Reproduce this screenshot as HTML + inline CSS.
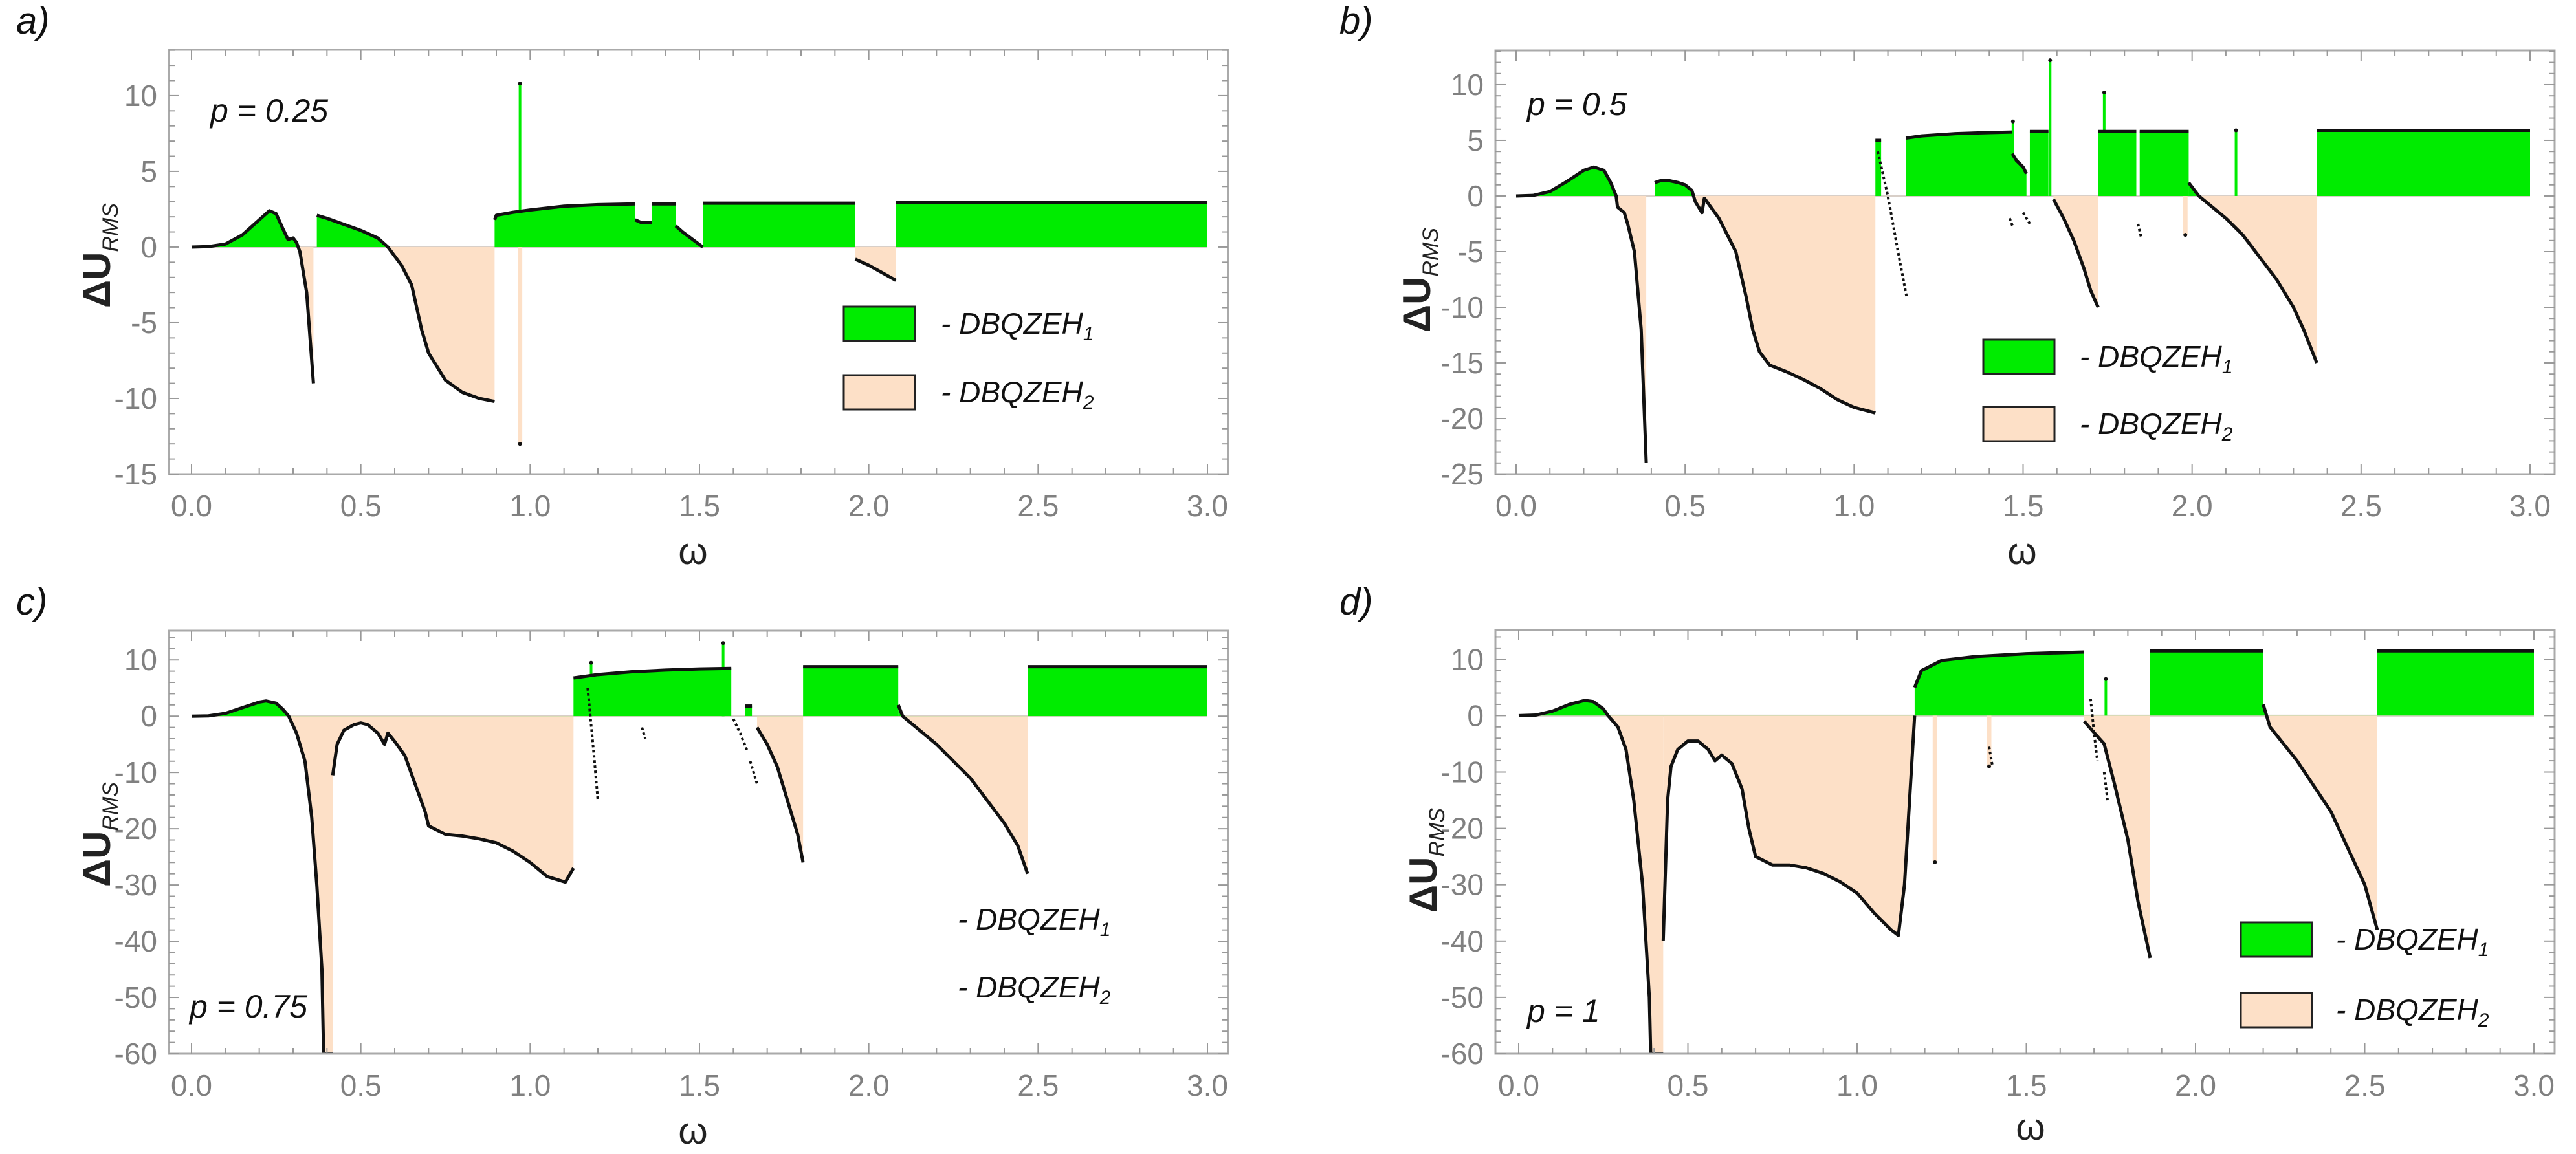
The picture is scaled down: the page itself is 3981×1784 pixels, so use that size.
<!DOCTYPE html>
<html><head><meta charset="utf-8"><style>
html,body{margin:0;padding:0;background:#fff}
svg{display:block}
text{font-family:"Liberation Sans",sans-serif}
</style></head><body>
<svg id="fig" width="3981" height="1784" viewBox="0 0 3981 1784" xmlns="http://www.w3.org/2000/svg"></svg>
<script>
// ---------- DATA ----------
// panel a (p = 0.25)
const aCurveX = [[0,0.05,0.1,0.15,0.2,0.23,0.25,0.27,0.285,0.3,0.31,0.32,0.34,0.36],[0.37,0.4,0.45,0.5,0.55,0.58,0.6,0.62,0.65,0.68,0.7,0.75,0.8,0.85,0.895],[0.895,0.9,0.95,1.0,1.1,1.2,1.31],[1.31,1.33,1.36],[1.36,1.43],[1.43,1.45,1.48,1.51],[1.51,1.96],[1.96,2.0,2.04,2.08],[2.08,3.0]];
const aCurveY = [[0,0.03,0.2,0.8,1.8,2.4,2.2,1.2,0.5,0.6,0.3,-0.3,-3,-9],[2.1,1.9,1.5,1.1,0.6,0,-0.6,-1.2,-2.5,-5.5,-7,-8.8,-9.6,-10,-10.2],[1.8,2.1,2.3,2.45,2.7,2.8,2.85],[1.8,1.6,1.6],[2.85,2.85],[1.4,1.0,0.5,0],[2.9,2.9],[-0.8,-1.2,-1.7,-2.2],[2.95,2.95]];
const aTrailX = [];
const aTrailY = [];
const aSpikeX = [0.97,0.97];
const aSpikeY = [10.8,-13];
// panel b (p = 0.5)
const bCurveX = [[0,0.05,0.1,0.15,0.2,0.23,0.26,0.28,0.296,0.3,0.32,0.33,0.35,0.37,0.385],[0.41,0.43,0.45,0.48,0.5,0.52,0.53,0.55,0.557,0.6,0.65,0.68,0.7,0.72,0.75,0.8,0.85,0.9,0.95,1.0,1.063],[1.063,1.08],[1.153,1.2,1.25,1.3,1.4,1.468],[1.468,1.48,1.5,1.51],[1.52,1.575],[1.59,1.62,1.65,1.68,1.7,1.722],[1.722,1.835],[1.845,1.99],[1.99,2.02,2.06,2.1,2.15,2.2,2.25,2.3,2.33,2.369],[2.369,3.0]];
const bCurveY = [[0,0.05,0.4,1.3,2.3,2.6,2.3,1.2,0,-1,-1.5,-2.5,-5,-12,-24],[1.2,1.4,1.4,1.2,1.0,0.5,-0.5,-1.5,-0.2,-2,-5,-9,-12,-14,-15.2,-15.8,-16.5,-17.3,-18.3,-19,-19.5],[5,5],[5.2,5.4,5.5,5.6,5.7,5.75],[3.8,3.2,2.6,2.0],[5.8,5.8],[-0.3,-2,-4,-6.5,-8.5,-10],[5.8,5.8],[5.8,5.8],[1.2,0,-1,-2,-3.5,-5.5,-7.5,-10,-12,-15],[5.9,5.9]];
const bTrailX = [[1.07,1.1,1.13,1.155],[1.5,1.52],[1.84,1.85],[1.46,1.47]];
const bTrailY = [[4,0,-5,-9],[-1.5,-2.5],[-2.5,-3.8],[-2,-2.8]];
const bSpikeX = [1.47,1.58,1.74,2.13,1.98];
const bSpikeY = [6.7,12.2,9.3,5.9,-3.5];
// panel c (p = 0.75)
const cCurveX = [[0,0.05,0.1,0.15,0.2,0.22,0.25,0.27,0.287,0.31,0.335,0.355,0.37,0.385,0.39,0.417],[0.417,0.43,0.45,0.48,0.5,0.52,0.55,0.57,0.58,0.6,0.63,0.66,0.69,0.7,0.75,0.8,0.85,0.9,0.95,1.0,1.05,1.104,1.128],[1.128,1.2,1.3,1.4,1.5,1.594],[1.635,1.655],[1.67,1.7,1.73,1.76,1.79,1.806],[1.806,2.087],[2.087,2.1,2.15,2.2,2.25,2.3,2.35,2.4,2.44,2.469],[2.469,3.0]];
const cCurveY = [[0,0.05,0.5,1.5,2.5,2.7,2.3,1.2,0,-3,-8,-18,-30,-45,-60,-60],[-10.5,-5,-2.5,-1.5,-1.2,-1.5,-3,-5,-3,-4.5,-7,-12,-17,-19.5,-21,-21.3,-21.8,-22.5,-24,-26,-28.5,-29.5,-27],[6.8,7.4,7.9,8.2,8.4,8.5],[1.8,1.8],[-2,-5,-9,-15,-21,-26],[8.8,8.8],[2,0,-2.5,-5,-8,-11,-15,-19,-23,-28],[8.8,8.8]];
const cTrailX = [[1.17,1.19,1.2],[1.33,1.34],[1.6,1.62,1.64],[1.65,1.67]];
const cTrailY = [[5,-8,-15],[-2,-4],[-0.5,-3,-6],[-8,-12]];
const cSpikeX = [1.18,1.57];
const cSpikeY = [9.5,13];
// panel d (p = 1)
const dCurveX = [[0,0.05,0.1,0.15,0.195,0.22,0.25,0.264,0.293,0.317,0.34,0.366,0.386,0.39,0.427],[0.427,0.44,0.45,0.47,0.5,0.53,0.56,0.58,0.6,0.63,0.66,0.68,0.7,0.75,0.8,0.85,0.9,0.95,1.0,1.05,1.1,1.122,1.14,1.16,1.17],[1.17,1.19,1.25,1.35,1.5,1.671],[1.671,1.7,1.73,1.76,1.8,1.83,1.866],[1.866,2.2],[2.2,2.22,2.3,2.4,2.5,2.537],[2.537,3.0]];
const dCurveY = [[0,0.1,0.8,2,2.7,2.5,1.2,0,-2,-6,-15,-30,-50,-60,-60],[-40,-15,-9,-6,-4.5,-4.5,-6,-8,-7,-8.5,-13,-20,-25,-26.5,-26.5,-27,-28,-29.5,-31.5,-35,-38,-39,-30,-10,0],[5,8,9.8,10.5,11,11.3],[-1,-3,-5,-12,-22,-33,-43],[11.5,11.5],[2,-2,-8,-17,-30,-38],[11.5,11.5]];
const dTrailX = [[1.69,1.7,1.71],[1.73,1.74],[1.39,1.4]];
const dTrailY = [[3,-3,-8],[-10,-15],[-5.5,-9]];
const dSpikeX = [1.23,1.39,1.735];
const dSpikeY = [-26,-9,6.5];
const xTickLabels = ["0.0","0.5","1.0","1.5","2.0","2.5","3.0"];
const aYTicks = [10,5,0,-5,-10,-15];
const bYTicks = [10,5,0,-5,-10,-15,-20,-25];
const cYTicks = [10,0,-10,-20,-30,-40,-50,-60];
const dYTicks = [10,0,-10,-20,-30,-40,-50,-60];

// ---------- RENDER ----------
const NS="http://www.w3.org/2000/svg";
const svg=document.getElementById('fig');
function mk(tag,attrs,parent){const e=document.createElementNS(NS,tag);for(const k in attrs)e.setAttribute(k,attrs[k]);(parent||svg).appendChild(e);return e;}
const GREEN="#00ec00", PEACH="#fde0c7";

const panels=[
 {id:'a',L:261,R:1898,T:77,B:733,x0:296,x3:1866,ymin:-15,ymax:13.03,minor:1,yt:aYTicks,cx:aCurveX,cy:aCurveY,tx:aTrailX,ty:aTrailY,sx:aSpikeX,sy:aSpikeY,
  lab:[25,52],p:"p = 0.25",pp:[325,188],omega:[1071,872],ytitle:[150,395],
  leg:{box:true,x:1304,y1:474,y2:580,tx:1454}},
 {id:'b',L:2311,R:3948,T:78,B:733,x0:2343,x3:3910,ymin:-25,ymax:13.08,minor:1,yt:bYTicks,cx:bCurveX,cy:bCurveY,tx:bTrailX,ty:bTrailY,sx:bSpikeX,sy:bSpikeY,
  lab:[2070,52],p:"p = 0.5",pp:[2360,178],omega:[3125,872],ytitle:[2190,433],
  leg:{box:true,x:3065,y1:525,y2:629,tx:3214}},
 {id:'c',L:261,R:1898,T:975,B:1629,x0:296,x3:1866,ymin:-60,ymax:15.2,minor:2,yt:cYTicks,cx:cCurveX,cy:cCurveY,tx:cTrailX,ty:cTrailY,sx:cSpikeX,sy:cSpikeY,
  lab:[25,950],p:"p = 0.75",pp:[293,1573],omega:[1071,1768],ytitle:[150,1290],
  leg:{box:false,x:1330,y1:1395,y2:1500,tx:1480}},
 {id:'d',L:2311,R:3948,T:974,B:1629,x0:2347,x3:3916,ymin:-60,ymax:15.2,minor:2,yt:dYTicks,cx:dCurveX,cy:dCurveY,tx:dTrailX,ty:dTrailY,sx:dSpikeX,sy:dSpikeY,
  lab:[2070,950],p:"p = 1",pp:[2360,1580],omega:[3138,1762],ytitle:[2200,1330],
  leg:{box:true,x:3463,y1:1426,y2:1535,tx:3610}}
];

panels.forEach(P=>{
  const g=mk('g',{});
  
  
  const X=v=>P.x0+(P.x3-P.x0)*v/3;
  const Y=v=>P.B-(v-P.ymin)*(P.B-P.T)/(P.ymax-P.ymin);
  const y0=Y(0);
  const defs=mk('defs',{},g);
  const cu=mk('clipPath',{id:'up'+P.id},defs);mk('rect',{x:P.L,y:P.T,width:P.R-P.L,height:y0-P.T},cu);
  const cd=mk('clipPath',{id:'dn'+P.id},defs);mk('rect',{x:P.L,y:y0,width:P.R-P.L,height:P.B-y0},cd);
  const cf=mk('clipPath',{id:'fr'+P.id},defs);mk('rect',{x:P.L,y:P.T,width:P.R-P.L,height:P.B-P.T},cf);
  // zero line
  const zl=mk('line',{x1:X(0),x2:X(3),y1:y0,y2:y0,stroke:'#d8cfc8','stroke-width':3},g);
  
  
  const plot=mk('g',{'clip-path':'url(#fr'+P.id+')'},g);
  // filled segments
  P.cx.forEach((xs,i)=>{
    const ys=P.cy[i];
    let pts=X(xs[0])+','+y0+' ';
    xs.forEach((x,j)=>{pts+=X(x)+','+Y(ys[j])+' ';});
    pts+=X(xs[xs.length-1])+','+y0;
    const up=mk('polygon',{points:pts,fill:GREEN,'clip-path':'url(#up'+P.id+')'},plot);
    
    
    const dn=mk('polygon',{points:pts,fill:PEACH,'clip-path':'url(#dn'+P.id+')'},plot);
    
    
  });
  // spikes
  P.sx.forEach((x,i)=>{
    const v=P.sy[i];
    const s=mk('line',{x1:X(x),x2:X(x),y1:y0,y2:Y(v),stroke:v>0?GREEN:PEACH,'stroke-width':v>0?4:7},plot);
    
    
    mk('circle',{cx:X(x),cy:Y(v),r:3,fill:'#111'},plot);
  });
  // curves
  P.cx.forEach((xs,i)=>{
    const ys=P.cy[i];
    const c=mk('polyline',{points:xs.map((x,j)=>X(x)+','+Y(ys[j])).join(' '),fill:'none',stroke:'#111','stroke-width':5,'stroke-linejoin':'round'},plot);
    
    
  });
  P.tx.forEach((xs,i)=>{
    const ys=P.ty[i];
    const c=mk('polyline',{points:xs.map((x,j)=>X(x)+','+Y(ys[j])).join(' '),fill:'none',stroke:'#111','stroke-width':4,'stroke-dasharray':'4 4'},plot);
    
    
  });
  // frame
  const fr=mk('rect',{x:P.L,y:P.T,width:P.R-P.L,height:P.B-P.T,fill:'none',stroke:'#aaa','stroke-width':3},g);
  
  
  // x ticks
  for(let k=0;k<=30;k++){
    const v=k/10, px=X(v), len=(k%5===0)?16:9;
    mk('line',{x1:px,x2:px,y1:P.B,y2:P.B-len,stroke:'#999','stroke-width':2},g);
    mk('line',{x1:px,x2:px,y1:P.T,y2:P.T+len,stroke:'#999','stroke-width':2},g);
  }
  xTickLabels.forEach((t,k)=>{
    const e=mk('text',{x:X(k*0.5),y:P.B+65,'font-size':46,fill:'#808080','text-anchor':'middle'},g);
    e.textContent=t;
    
    
  });
  // y ticks
  for(let v=Math.ceil(P.ymin);v<=P.ymax;v+=P.minor){
    const py=Y(v), maj=P.yt.includes(v), len=maj?16:9;
    mk('line',{x1:P.L,x2:P.L+len,y1:py,y2:py,stroke:'#999','stroke-width':2},g);
    mk('line',{x1:P.R,x2:P.R-len,y1:py,y2:py,stroke:'#999','stroke-width':2},g);
  }
  P.yt.forEach(v=>{
    const e=mk('text',{x:P.L-18,y:Y(v)+16,'font-size':46,fill:'#808080','text-anchor':'end'},g);
    e.textContent=v;
    
    
  });
  // titles
  const om=mk('text',{x:P.omega[0],y:P.omega[1],'font-size':58,fill:'#222','text-anchor':'middle','font-family':'Liberation Serif, serif'},g);
  om.textContent='ω';
  
  
  const yt=mk('text',{transform:`translate(${P.ytitle[0]+20},${P.ytitle[1]}) rotate(-90)`,'font-size':60,'font-weight':'bold',fill:'#222','text-anchor':'middle','font-family':'Liberation Serif, serif'},g);
  yt.innerHTML='ΔU<tspan font-size="34" font-style="italic" font-weight="normal" dy="12">RMS</tspan>';
  
  
  const lb=mk('text',{x:P.lab[0],y:P.lab[1],'font-size':58,'font-style':'italic',fill:'#111'},g);
  lb.textContent=P.id+')';
  
  
  const pl=mk('text',{x:P.pp[0],y:P.pp[1],'font-size':50,'font-style':'italic',fill:'#111'},g);
  pl.textContent=P.p;
  
  
  // legend
  const L=P.leg;
  [[L.y1,GREEN,'1'],[L.y2,PEACH,'2']].forEach(([yy,col,sub])=>{
    if(L.box){
      const b=mk('rect',{x:L.x,y:yy,width:110,height:53,fill:col,stroke:'#222','stroke-width':3},g);
      
      
    }
    const t=mk('text',{x:L.tx,y:yy+42,'font-size':46,'font-style':'italic',fill:'#111'},g);
    t.innerHTML='- DBQZEH<tspan font-size="30" dy="10">'+sub+'</tspan>';
    
    
  });
});
</script>
</body></html>
